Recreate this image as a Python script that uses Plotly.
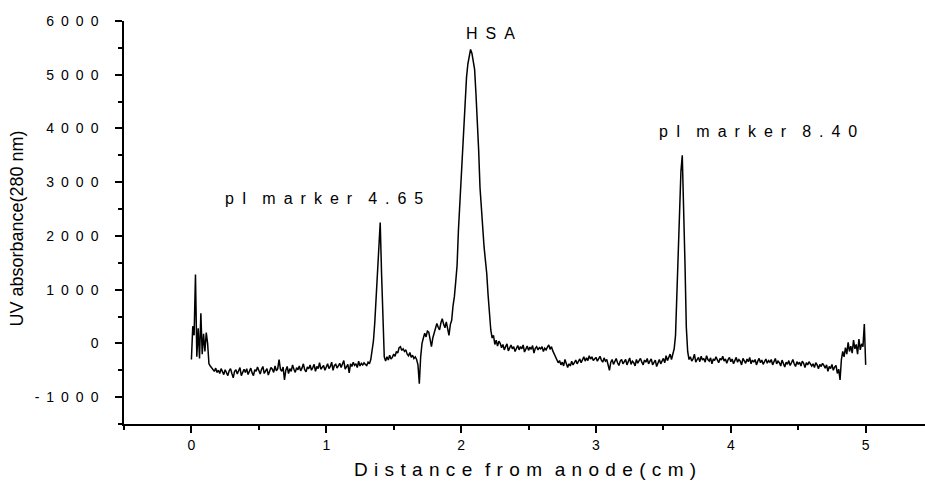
import numpy as np
import plotly.graph_objects as go

# distance along the capillary (cm), one sample every 0.01 cm
distance = np.round(np.arange(0, 5.001, 0.01), 2)

# UV absorbance at 280 nm (one row = 0.1 cm)
absorbance = [
    -300, 320, 150, 1280, -250, 280, -280, 560, -200, 180,      # 0.0
    -150, 200, 0, -380, -420, -450, -480, -520, -460, -540,     # 0.1
    -500, -560, -470, -530, -580, -490, -540, -600, -510, -470,
    -560, -640, -520, -490, -570, -520, -450, -600, -530, -480,
    -540, -470, -580, -510, -460, -550, -600, -490, -520, -440,
    -520, -570, -480, -430, -560, -500, -470, -590, -510, -450,  # 0.5
    -480, -540, -420, -510, -470, -300, -480, -520, -440, -680,
    -500, -430, -560, -470, -520, -400, -480, -540, -450, -490,
    -420, -510, -460, -380, -490, -530, -440, -470, -400, -500,
    -450, -390, -520, -430, -470, -360, -480, -440, -410, -500,
    -420, -380, -470, -430, -350, -500, -410, -390, -460, -420,  # 1.0
    -370, -450, -400, -320, -480, -420, -390, -550, -380, -430,
    -350, -410, -380, -450, -330, -420, -370, -400, -360, -390,
    -410, -350, -380, -300, -150, 50, 400, 900, 1400, 1900,
    2250, 1300, 300, -250, -330, -250, -310, -220, -290, -260,
    -200, -240, -150, -180, -80, -60, -130, -100, -150, -120,    # 1.5
    -200, -230, -170, -260, -220, -280, -250, -300, -400, -750,
    -250, 0, 100, 190, 120, 230, 210, 80, -60, 100,
    180, 260, 370, 300, 250, 380, 460, 360, 290, 400,
    250, 150, 350, 430, 700, 870, 1150, 1450, 2100, 2600,
    3100, 3600, 4150, 4650, 4950, 5200, 5380, 5470, 5400, 5250,  # 2.0
    5100, 4650, 4200, 3600, 2900, 2500, 2100, 1800, 1550, 1300,
    900, 500, 250, 100, 150, -20, 60, -50, 40, 0,
    -80, -20, -120, -60, -10, -140, -90, -30, -100, -60,
    -150, -80, -40, -120, -60, -100, -30, -160, -90, -50,
    -130, -70, -110, -40, -180, -90, -60, -120, -80, -100,       # 2.5
    -60, -150, -90, -120, -70, -30, -110, -60, -140, -200,
    -250, -300, -360, -320, -400, -350, -420, -300, -390, -450,
    -380, -420, -330, -400, -360, -310, -380, -340, -290, -360,
    -300, -250, -330, -270, -320, -230, -290, -250, -320, -280,
    -260, -330, -280, -240, -310, -350, -270, -330, -300, -380,  # 3.0
    -500, -350, -300, -390, -320, -280, -360, -410, -330, -300,
    -380, -340, -300, -400, -350, -270, -390, -330, -360, -420,
    -300, -370, -320, -280, -350, -400, -310, -350, -280, -380,
    -330, -290, -400, -350, -310, -430, -360, -300, -380, -320,
    -280, -360, -230, -320, -260, -200, -300, -180, -100, 150,   # 3.5
    900, 1900, 2700, 3200, 3500, 2700, 1500, 300, -150, -300,
    -250, -330, -290, -200, -350, -300, -260, -340, -240, -310,
    -280, -350, -230, -300, -330, -270, -380, -290, -320, -250,
    -300, -360, -280, -310, -240, -330, -290, -370, -300, -260,
    -340, -290, -380, -310, -260, -350, -300, -330, -400, -280,  # 4.0
    -320, -370, -290, -340, -260, -380, -310, -350, -300, -400,
    -330, -280, -360, -310, -390, -340, -290, -370, -320, -350,
    -300, -400, -340, -280, -380, -330, -360, -420, -310, -370,
    -440, -350, -390, -320, -410, -360, -300, -380, -430, -340,
    -390, -350, -420, -330, -370, -450, -360, -400, -340, -380,  # 4.5
    -420, -380, -450, -360, -400, -470, -390, -430, -370, -410,
    -460, -400, -520, -430, -470, -390, -500, -440, -410, -560,
    -480, -680, -300, -150, -250, -80, -200, 20, -150, -50,
    -180, 60, -100, -20, -200, 80, -120, -10, -60, 360,
    -400,                                                        # 5.0
]

x_ticks = [0, 1, 2, 3, 4, 5]
y_ticks = [-1000, 0, 1000, 2000, 3000, 4000, 5000, 6000]

peak_labels = ["HSA", "pI marker 4.65", "pI marker 8.40"]


def spaced(text, gap="\u2002"):
    # the original plot has wide letter spacing everywhere
    return (gap * 2).join(gap.join(word) for word in text.split(" "))


fig = go.Figure()
fig.add_trace(go.Scatter(x=distance, y=absorbance, mode="lines",
                         line=dict(color="black", width=1.5), hoverinfo="skip"))

label_pos = [(2.22, 5770), (0.98, 2700), (4.20, 3935)]
for txt, (lx, ly) in zip(peak_labels, label_pos):
    fig.add_annotation(x=lx, y=ly, text=spaced(txt), showarrow=False,
                       font=dict(size=16), xanchor="center", yanchor="middle")

fig.add_annotation(xref="paper", yref="paper", x=0.5, y=-0.114,
                   text=spaced("Distance from anode(cm)", "\u2004"),
                   showarrow=False, font=dict(size=19), yanchor="middle")
fig.add_annotation(xref="paper", yref="paper", x=-0.133, y=0.486,
                   text="UV absorbance(280 nm)", textangle=-90,
                   showarrow=False, font=dict(size=18), xanchor="center")

axis_style = dict(showline=True, linecolor="black", linewidth=1.5,
                  ticks="outside", ticklen=7, tickwidth=1.5, tickcolor="black",
                  showgrid=False, zeroline=False, tickfont=dict(size=14))

fig.update_xaxes(range=[-0.5, 5.44], tickvals=x_ticks,
                 ticktext=[str(v) for v in x_ticks],
                 minor=dict(dtick=0.5, tick0=0, ticks="outside", ticklen=4,
                            tickwidth=1.5, tickcolor="black"),
                 **axis_style)
fig.update_yaxes(range=[-1500, 6000], tickvals=y_ticks,
                 ticktext=[spaced(str(v)) for v in y_ticks],
                 ticklabelstandoff=14,
                 minor=dict(dtick=500, tick0=0, ticks="outside", ticklen=4,
                            tickwidth=1.5, tickcolor="black"),
                 **axis_style)

fig.update_layout(width=925, height=484,
                  margin=dict(l=124, r=0, t=21, b=60),
                  plot_bgcolor="white", paper_bgcolor="white",
                  showlegend=False,
                  font=dict(family="Liberation Sans, Arial", color="black"))

# drop the browser's default page margin so the figure sits at (0, 0)
fig.write_html("out.html", config={"displayModeBar": False},
               post_script="document.body.style.margin = '0';")
